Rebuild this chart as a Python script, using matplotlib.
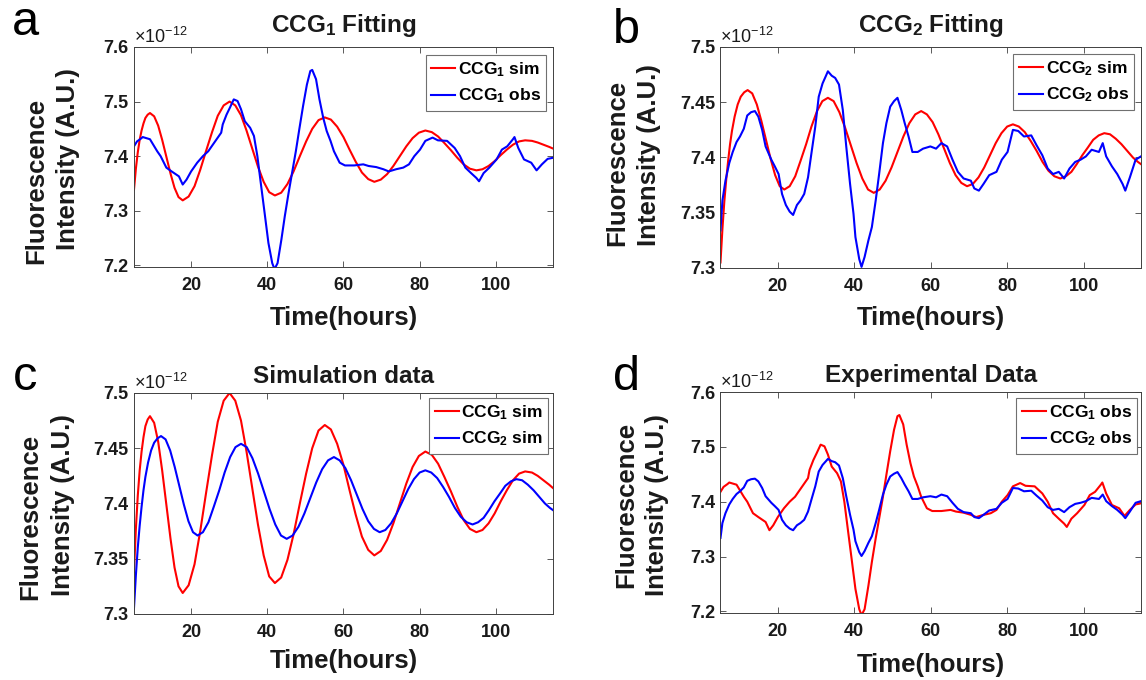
'''
CCG1 / CCG2 fitting panels: simulated vs observed fluorescence (4 panels a-d)
'''

# %% import packages

import matplotlib
matplotlib.use('Agg')
import matplotlib.pyplot as plt
from matplotlib.ticker import FuncFormatter

plt.rcParams['font.family'] = ['Liberation Sans', 'DejaVu Sans']
plt.rcParams['mathtext.fontset'] = 'custom'
plt.rcParams['mathtext.rm'] = 'Liberation Sans'
plt.rcParams['mathtext.bf'] = 'Liberation Sans:bold'
plt.rcParams['mathtext.it'] = 'Liberation Sans:italic'

# %% data (values in units of 1e-12)

t_ccg1_sim = [5, 5.5, 6, 6.5, 7, 7.5, 8, 8.6, 9.2,
              10.3, 11.35, 12.4, 13.5, 14.6, 15.65, 16.7, 17.8,
              19.35, 20.9, 22.4, 23.95, 25.5, 27.0, 28.55, 30.1,
              31.6, 33.1, 34.55, 36.05, 37.55, 39.05, 40.5, 42.0,
              43.65, 45.3, 46.9, 48.55, 50.2, 51.8, 53.45, 55.1,
              56.7, 58.35, 60.0, 61.6, 63.2, 64.85, 66.5, 68.1,
              69.8, 71.45, 73.1, 74.8, 76.5, 78.15, 79.8, 81.5,
              83.2, 84.85, 86.5, 88.2, 89.9, 91.55, 93.2, 94.9,
              96.5, 98.1, 99.7, 101.3, 102.9, 104.5, 106.1, 107.7,
              109.5, 111.0, 112.5, 114.0, 115.0]
ccg1_sim = [7.338, 7.377, 7.407, 7.430, 7.447, 7.460, 7.470, 7.476, 7.479,
            7.473, 7.456, 7.430, 7.399, 7.368, 7.342, 7.325, 7.319,
            7.326, 7.345, 7.375, 7.410, 7.444, 7.474, 7.493, 7.500,
            7.493, 7.475, 7.447, 7.414, 7.381, 7.353, 7.334, 7.328,
            7.333, 7.349, 7.372, 7.400, 7.427, 7.450, 7.466, 7.471,
            7.467, 7.454, 7.435, 7.412, 7.390, 7.370, 7.358, 7.353,
            7.357, 7.367, 7.382, 7.400, 7.418, 7.433, 7.443, 7.447,
            7.444, 7.436, 7.424, 7.411, 7.397, 7.385, 7.377, 7.374,
            7.376, 7.382, 7.391, 7.402, 7.412, 7.421, 7.427, 7.429,
            7.428, 7.425, 7.421, 7.417, 7.414]

t_ccg2_sim = [5, 5.5, 6, 6.5, 7, 7.5, 8, 8.7, 9.5, 10.3, 11.2, 12.1,
              13.3, 14.5, 15.7, 16.9, 18.1, 19.3, 20.5, 21.7,
              23.1, 24.55, 25.95, 27.4, 28.8, 30.25, 31.65, 33.1,
              34.6, 36.1, 37.6, 39.1, 40.6, 42.1, 43.6, 45.1,
              46.65, 48.2, 49.75, 51.3, 52.85, 54.4, 55.95, 57.5,
              59.0, 60.5, 62.0, 63.5, 65.0, 66.5, 68.0, 69.5,
              71.0, 72.5, 74.0, 75.5, 77.0, 78.5, 80.0, 81.5,
              83.05, 84.6, 86.15, 87.7, 89.25, 90.8, 92.35, 93.9,
              95.35, 96.8, 98.2, 99.65, 101.1, 102.5, 103.95, 105.4,
              106.9, 108.4, 109.9, 111.4, 112.9, 114.2, 115.0]
ccg2_sim = [7.305, 7.335, 7.360, 7.380, 7.397, 7.412, 7.424, 7.437, 7.448, 7.455, 7.459, 7.461,
            7.458, 7.448, 7.433, 7.416, 7.399, 7.384, 7.374, 7.371,
            7.374, 7.383, 7.397, 7.412, 7.428, 7.442, 7.451, 7.454,
            7.451, 7.441, 7.427, 7.411, 7.395, 7.381, 7.371, 7.368,
            7.371, 7.379, 7.391, 7.405, 7.419, 7.431, 7.439, 7.442,
            7.439, 7.432, 7.421, 7.408, 7.395, 7.384, 7.377, 7.374,
            7.376, 7.382, 7.391, 7.402, 7.413, 7.422, 7.428, 7.430,
            7.428, 7.423, 7.415, 7.406, 7.396, 7.388, 7.383, 7.381,
            7.383, 7.387, 7.394, 7.402, 7.409, 7.416, 7.420, 7.422,
            7.421, 7.417, 7.412, 7.406, 7.400, 7.396, 7.394]

t_ccg1_obs = [5, 5.8, 6.8, 7.3, 9.2, 11.1, 12.0, 13.5, 14.9, 16.8,
              17.8, 18.8, 20, 21.6, 23.1, 24.5, 26.4, 27.9, 28.3, 29.3,
              30.2, 31.2, 32.2, 33.1, 34.1, 35.5, 36.5, 37.4, 38.4, 39.3,
              40.3, 41.3, 41.9, 42.7, 43.7, 44.6, 45.6, 46.5, 47.5, 48.4,
              49.4, 50.4, 51.3, 51.8, 52.8, 53.7, 54.7, 55.6, 56.6, 57.5,
              59.0, 60.4, 62.8, 65.2, 66.6, 68.6, 70.5, 71.9, 73.8, 75.7,
              77.2, 78.6, 80.1, 81.5, 83.4, 84.8, 87.2, 89.2, 90.6, 92.0,
              93.5, 94.9, 95.6, 96.8, 98.3, 100.2, 101.6, 103.0, 104.5, 104.9,
              105.9, 107.4, 109.3, 110.7, 112.1, 113.6, 115]
ccg1_obs = [7.418, 7.427, 7.432, 7.435, 7.431, 7.409, 7.400, 7.379, 7.372, 7.363,
            7.348, 7.357, 7.372, 7.388, 7.400, 7.409, 7.428, 7.443, 7.458, 7.476,
            7.489, 7.504, 7.501, 7.486, 7.464, 7.452, 7.437, 7.400, 7.345, 7.296,
            7.241, 7.204, 7.193, 7.204, 7.247, 7.290, 7.333, 7.369, 7.409, 7.449,
            7.492, 7.531, 7.556, 7.558, 7.541, 7.504, 7.470, 7.446, 7.428, 7.409,
            7.388, 7.383, 7.383, 7.385, 7.382, 7.380, 7.376, 7.372, 7.376, 7.379,
            7.385, 7.400, 7.412, 7.428, 7.434, 7.429, 7.428, 7.415, 7.400, 7.379,
            7.369, 7.360, 7.354, 7.369, 7.379, 7.394, 7.412, 7.418, 7.431, 7.435,
            7.415, 7.394, 7.388, 7.374, 7.385, 7.395, 7.397]

t_ccg2_obs = [5.0, 5.5, 6.3, 7.3, 8.2, 9.2, 10.1, 11.1, 12.0, 13.0,
              14.0, 14.9, 15.9, 16.8, 18.3, 19.2, 20.2, 21.1, 22.1, 23.1,
              24.0, 25.0, 25.9, 26.9, 27.9, 28.8, 29.8, 30.7, 31.7, 32.6,
              33.1, 34.1, 35.0, 36.0, 37.0, 37.9, 38.9, 39.8, 40.3, 41.3,
              41.9, 42.7, 43.7, 44.6, 45.6, 46.5, 47.5, 48.4, 49.4, 50.4,
              51.3, 52.3, 53.2, 54.2, 55.2, 56.6, 58.0, 59.9, 61.4, 62.8,
              64.3, 65.7, 67.1, 68.6, 70.5, 71.4, 72.6, 73.8, 75.3, 77.2,
              78.6, 80.1, 81.5, 82.9, 84.4, 86.3, 87.7, 89.2, 90.6, 92.0,
              93.5, 94.9, 96.3, 97.8, 99.2, 100.6, 102.1, 104.0, 105.0, 105.9,
              107.4, 108.8, 110.2, 110.9, 112.1, 113.6, 115.0]
ccg2_obs = [7.334, 7.361, 7.379, 7.395, 7.405, 7.414, 7.419, 7.426, 7.438, 7.441,
            7.442, 7.437, 7.425, 7.410, 7.398, 7.392, 7.385, 7.367, 7.357, 7.351,
            7.348, 7.357, 7.361, 7.367, 7.382, 7.404, 7.428, 7.455, 7.467, 7.474,
            7.478, 7.474, 7.472, 7.466, 7.443, 7.410, 7.376, 7.349, 7.328, 7.308,
            7.301, 7.310, 7.325, 7.337, 7.361, 7.385, 7.413, 7.431, 7.446, 7.451,
            7.454, 7.443, 7.431, 7.419, 7.405, 7.405, 7.408, 7.410, 7.408, 7.413,
            7.410, 7.398, 7.387, 7.381, 7.379, 7.372, 7.370, 7.376, 7.384, 7.387,
            7.398, 7.405, 7.425, 7.424, 7.419, 7.420, 7.411, 7.402, 7.390, 7.385,
            7.387, 7.381, 7.390, 7.396, 7.398, 7.401, 7.407, 7.405, 7.413, 7.401,
            7.392, 7.385, 7.376, 7.370, 7.382, 7.398, 7.401]

xticks = [20, 40, 60, 80, 100]
yticks_wide = [7.2, 7.3, 7.4, 7.5, 7.6]
yticks_narrow = [7.3, 7.35, 7.4, 7.45, 7.5]

RED = '#ff0000'
BLUE = '#0000ff'
AXCOL = '#404040'
TXT = '#1a1a1a'

# %% helpers

def style_axes(ax, title, ylim, yticks, title_y, xlab_y, fl_xy, in_xy):
    ax.set_xlim(5, 115)
    ax.set_ylim(*ylim)
    ax.set_xticks(xticks)
    ax.set_yticks(yticks)
    ax.yaxis.set_major_formatter(FuncFormatter(lambda v, p: f'{v:g}'))
    ax.tick_params(direction='in', top=True, right=True, length=4, width=0.6,
                   color=AXCOL, labelsize=13, labelcolor=TXT)
    ax.tick_params(axis='x', pad=7)
    ax.tick_params(axis='y', pad=4)
    for lab in ax.get_xticklabels() + ax.get_yticklabels():
        lab.set_fontweight('bold')
    for s in ax.spines.values():
        s.set_color(AXCOL)
        s.set_linewidth(0.7)
    ax.text(0.5, title_y, title, transform=ax.transAxes, ha='center', va='baseline',
            fontsize=17.5, fontweight='bold', color=TXT)
    ax.text(0.0, 1.018, '×10$^{-12}$', transform=ax.transAxes, ha='left',
            va='baseline', fontsize=13, color=TXT)
    ax.set_xlabel('Time(hours)', fontsize=18.5, fontweight='bold', color=TXT)
    ax.xaxis.set_label_coords(0.5, xlab_y)
    ax.xaxis.label.set_va('baseline')
    # two-line y label, each line placed separately
    ax.text(fl_xy[0], fl_xy[1], 'Fluorescence', transform=ax.transAxes, rotation=90,
            ha='center', va='center', fontsize=18.5, fontweight='bold', color=TXT)
    ax.text(in_xy[0], in_xy[1], 'Intensity (A.U.)', transform=ax.transAxes, rotation=90,
            ha='center', va='center', fontsize=18.5, fontweight='bold', color=TXT)


def add_legend(ax, anchor):
    leg = ax.legend(loc='upper right', bbox_to_anchor=anchor, borderaxespad=0,
                    prop={'weight': 'bold', 'size': 12.5}, fancybox=False,
                    edgecolor='#707070', framealpha=1, handlelength=1.4,
                    handletextpad=0.15, borderpad=0.3, labelspacing=0.45)
    leg.get_frame().set_linewidth(0.8)


# %% figure

fig = plt.figure(figsize=(11.46, 6.8), dpi=100)

ax_a = fig.add_axes([0.1169, 0.6074, 0.3656, 0.3235])
ax_b = fig.add_axes([0.6287, 0.6059, 0.3669, 0.3250])
ax_c = fig.add_axes([0.1169, 0.0971, 0.3656, 0.3250])
ax_d = fig.add_axes([0.6287, 0.0985, 0.3669, 0.3250])

# a: CCG1 fitting
ax_a.plot(t_ccg1_sim, ccg1_sim, color=RED, lw=1.5, label=r'CCG$_\mathbf{1}$ sim')
ax_a.plot(t_ccg1_obs, ccg1_obs, color=BLUE, lw=1.5, label=r'CCG$_\mathbf{1}$ obs')
style_axes(ax_a, r'CCG$_\mathbf{1}$ Fitting', (7.197, 7.6), yticks_wide,
           1.068, -0.264, (-0.233, 0.391), (-0.158, 0.491))
add_legend(ax_a, (0.984, 0.964))

# b: CCG2 fitting
ax_b.plot(t_ccg2_sim, ccg2_sim, color=RED, lw=1.5, label=r'CCG$_\mathbf{2}$ sim')
ax_b.plot(t_ccg2_obs, ccg2_obs, color=BLUE, lw=1.5, label=r'CCG$_\mathbf{2}$ obs')
style_axes(ax_b, r'CCG$_\mathbf{2}$ Fitting', (7.3, 7.5), yticks_narrow,
           1.068, -0.258, (-0.245, 0.477), (-0.169, 0.511))
add_legend(ax_b, (0.983, 0.968))

# c: simulation data
ax_c.plot(t_ccg1_sim, ccg1_sim, color=RED, lw=1.5, label=r'CCG$_\mathbf{1}$ sim')
ax_c.plot(t_ccg2_sim, ccg2_sim, color=BLUE, lw=1.5, label=r'CCG$_\mathbf{2}$ sim')
style_axes(ax_c, 'Simulation data', (7.3, 7.5), yticks_narrow,
           1.045, -0.244, (-0.248, 0.437), (-0.169, 0.491))
add_legend(ax_c, (0.989, 0.977))

# d: experimental data
ax_d.plot(t_ccg1_obs, ccg1_obs, color=RED, lw=1.5, label=r'CCG$_\mathbf{1}$ obs')
ax_d.plot(t_ccg2_obs, ccg2_obs, color=BLUE, lw=1.5, label=r'CCG$_\mathbf{2}$ obs')
style_axes(ax_d, 'Experimental Data', (7.197, 7.6), yticks_wide,
           1.045, -0.267, (-0.224, 0.489), (-0.150, 0.489))
add_legend(ax_d, (0.990, 0.973))

# panel letters
W, H = 1146, 680
for letter, (px, py) in zip('abcd', [(12, 35), (613, 43), (13, 390), (613, 390)]):
    fig.text(px / W, 1 - py / H, letter, fontsize=35, va='baseline', ha='left', color='black')

fig.savefig('out.png', dpi=100)
